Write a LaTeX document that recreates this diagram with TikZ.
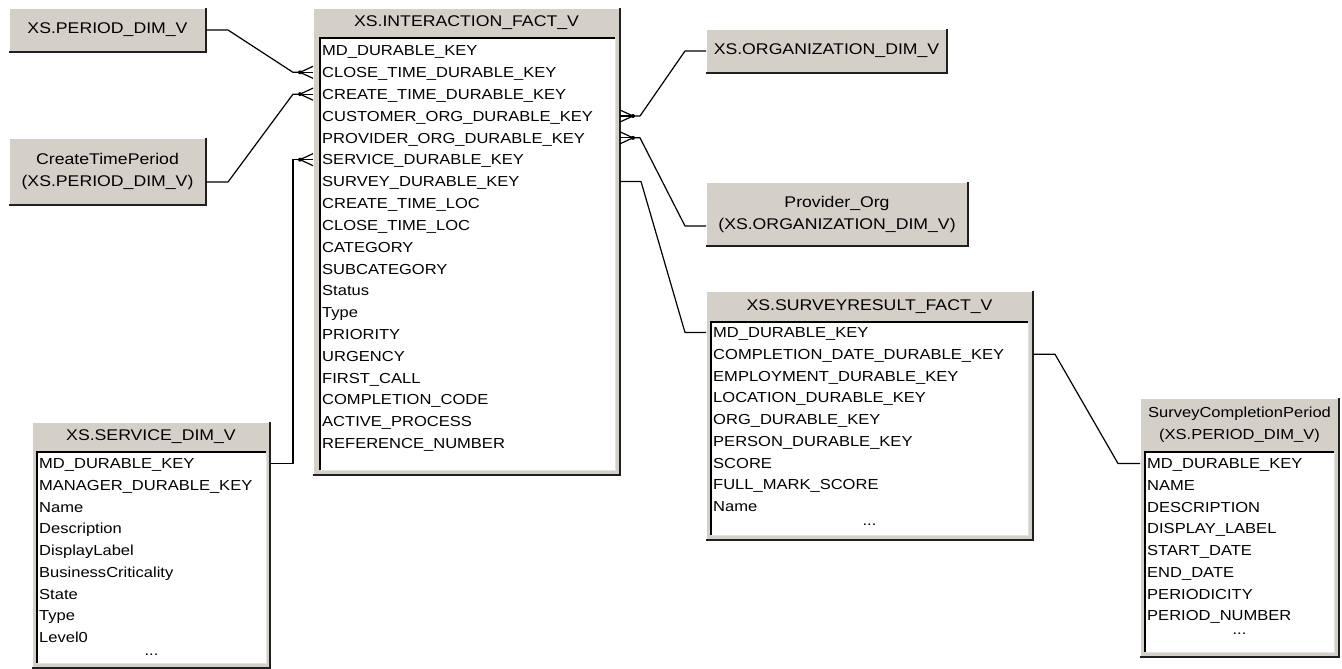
\documentclass[tikz,border=0pt]{standalone}
\usepackage{fontspec}
\setmainfont[FakeStretch=1.14]{Liberation Sans}

\definecolor{wingray}{HTML}{D4D0C8}
\definecolor{windark}{HTML}{202020}
\definecolor{winedge}{HTML}{E4E2DE}

\tikzset{
  panel/.style={fill=wingray, inner sep=0pt, outer sep=0pt, anchor=north west,
    align=center, font=\fontsize{15.5}{22}\selectfont},
  listarea/.style={fill=white, inner sep=0pt, outer sep=0pt, anchor=north west},
  caption/.style={inner sep=0pt, align=center, font=\fontsize{15.5}{22}\selectfont},
  field/.style={anchor=west, inner xsep=1pt, inner ysep=0pt, text height=10.4pt,
    text depth=0pt, font=\fontsize{14.5}{16}\selectfont},
  dots/.style={field, anchor=center},
  link/.style={line width=1.2pt, line join=round},
}

% crow's foot at a key row: #1 = point on the box edge, #2 = -1 (left) or 1 (right)
\newcommand{\crowsfoot}[2]{%
  \fill ([xshift=#2*13pt]#1) circle (2pt);
  \foreach \d in {-6,0,6}
    \draw[link] ([xshift=#2*13pt]#1) -- ([yshift=\d pt]#1);
}

\begin{document}
\begin{tikzpicture}[x=1pt,y=-1pt]

\useasboundingbox (0,0) rectangle (1342,669);

% plain boxes
\node[panel, minimum width=197pt, minimum height=44pt] (per) at (9,8) {XS.PERIOD\_DIM\_V};
\node[panel, minimum width=197pt, minimum height=67pt] (ctp) at (9,138) {CreateTimePeriod\\(XS.PERIOD\_DIM\_V)};
\node[panel, minimum width=241pt, minimum height=44pt] (org) at (706,29) {XS.ORGANIZATION\_DIM\_V};
\node[panel, minimum width=262pt, minimum height=64pt] (prv) at (706,182) {Provider\_Org\\(XS.ORGANIZATION\_DIM\_V)};

% table boxes
\node[panel, minimum width=307pt, minimum height=467pt] (ifv) at (313,8) {};
\node[panel, minimum width=238pt, minimum height=246pt] (svc) at (32,422) {};
\node[panel, minimum width=327pt, minimum height=249pt] (srf) at (706,291) {};
\node[panel, minimum width=199pt, minimum height=259pt] (scp) at (1140,398) {};

% raised edges
\foreach \b in {per,ctp,org,prv,ifv,svc,srf,scp} {
  \draw[white, line width=1.5pt] (\b.south west) |- (\b.north east);
  \draw[windark, line width=2pt] (\b.south west) -| (\b.north east);
}

% titles
\node[caption] (ifv-t) at (466.5,23) {XS.INTERACTION\_FACT\_V};
\node[caption] (svc-t) at (151,437) {XS.SERVICE\_DIM\_V};
\node[caption] (srf-t) at (869.5,306.5) {XS.SURVEYRESULT\_FACT\_V};
\node[caption, font=\fontsize{14.5}{22}\selectfont] (scp-t) at (1239.5,425) {SurveyCompletionPeriod\\(XS.PERIOD\_DIM\_V)};

% field lists
\node[listarea, minimum width=295pt, minimum height=432pt] (ifv-l) at (320,38) {};
\node[listarea, minimum width=229pt, minimum height=211pt] (svc-l) at (37,452) {};
\node[listarea, minimum width=317pt, minimum height=213pt] (srf-l) at (711,322) {};
\node[listarea, minimum width=189pt, minimum height=200pt] (scp-l) at (1145,452) {};

\foreach \b in {ifv-l,svc-l,srf-l,scp-l} {
  \draw[black, line width=1.4pt] (\b.south west) |- (\b.north east);
  \draw[winedge, line width=1pt] (\b.south west) -| (\b.north east);
}

\foreach \t [count=\i] in {MD\_DURABLE\_KEY, CLOSE\_TIME\_DURABLE\_KEY, CREATE\_TIME\_DURABLE\_KEY,
    CUSTOMER\_ORG\_DURABLE\_KEY, PROVIDER\_ORG\_DURABLE\_KEY, SERVICE\_DURABLE\_KEY,
    SURVEY\_DURABLE\_KEY, CREATE\_TIME\_LOC, CLOSE\_TIME\_LOC, CATEGORY, SUBCATEGORY,
    Status, Type, PRIORITY, URGENCY, FIRST\_CALL, COMPLETION\_CODE, ACTIVE\_PROCESS,
    REFERENCE\_NUMBER}
  \node[field] (ifv-\i) at (321,{50.5+21.83*(\i-1)}) {\t};

\foreach \t [count=\i] in {MD\_DURABLE\_KEY, MANAGER\_DURABLE\_KEY, Name, Description,
    DisplayLabel, BusinessCriticality, State, Type, Level0}
  \node[field] (svc-\i) at (38,{463.5+21.75*(\i-1)}) {\t};
\node[dots] (svc-e) at (151.5,650.5) {...};

\foreach \t [count=\i] in {MD\_DURABLE\_KEY, COMPLETION\_DATE\_DURABLE\_KEY,
    EMPLOYMENT\_DURABLE\_KEY, LOCATION\_DURABLE\_KEY, ORG\_DURABLE\_KEY,
    PERSON\_DURABLE\_KEY, SCORE, FULL\_MARK\_SCORE, Name}
  \node[field] (srf-\i) at (712,{332.5+21.75*(\i-1)}) {\t};
\node[dots] (srf-e) at (869.5,520) {...};

\foreach \t [count=\i] in {MD\_DURABLE\_KEY, NAME, DESCRIPTION, DISPLAY\_LABEL,
    START\_DATE, END\_DATE, PERIODICITY, PERIOD\_NUMBER}
  \node[field] (scp-\i) at (1146,{463.5+21.75*(\i-1)}) {\t};
\node[dots] (scp-e) at (1239.5,629) {...};

% key points on the box edges
\coordinate (k2) at (ifv-2 -| ifv.west);
\coordinate (k3) at (ifv-3 -| ifv.west);
\coordinate (k4) at (ifv-4 -| ifv.east);
\coordinate (k5) at (ifv-5 -| ifv.east);
\coordinate (k6) at (ifv-6 -| ifv.west);
\coordinate (k7) at (ifv-7 -| ifv.east);
\coordinate (s1) at (svc-1 -| svc.east);
\coordinate (r1) at (srf-1 -| srf.west);
\coordinate (r2) at (srf-2 -| srf.east);
\coordinate (p1) at (scp-1 -| scp.west);

% relations
\draw[link] (per.east) -- ++(22,0) -- ([xshift=-20pt]k2) -- ([xshift=-13pt]k2);
\crowsfoot{k2}{-1}
\draw[link] ([yshift=-10.5pt]ctp.east) -- ++(22,0) -- ([xshift=-20pt]k3) -- ([xshift=-13pt]k3);
\crowsfoot{k3}{-1}
\draw[link] (s1) -- ++(23,0) |- ([xshift=-13pt]k6);
\crowsfoot{k6}{-1}
\draw[link] (org.west) -- ++(-21,0) -- ([xshift=20pt]k4) -- ([xshift=13pt]k4);
\crowsfoot{k4}{1}
\draw[link] ([yshift=-12pt]prv.west) -- ++(-21,0) -- ([xshift=20pt]k5) -- ([xshift=13pt]k5);
\crowsfoot{k5}{1}
\draw[link] (k7) -- ++(21,0) -- ([xshift=-21pt]r1) -- (r1);
\draw[link] (r2) -- ++(22,0) -- ([xshift=-22pt]p1) -- (p1);

\end{tikzpicture}
\end{document}
